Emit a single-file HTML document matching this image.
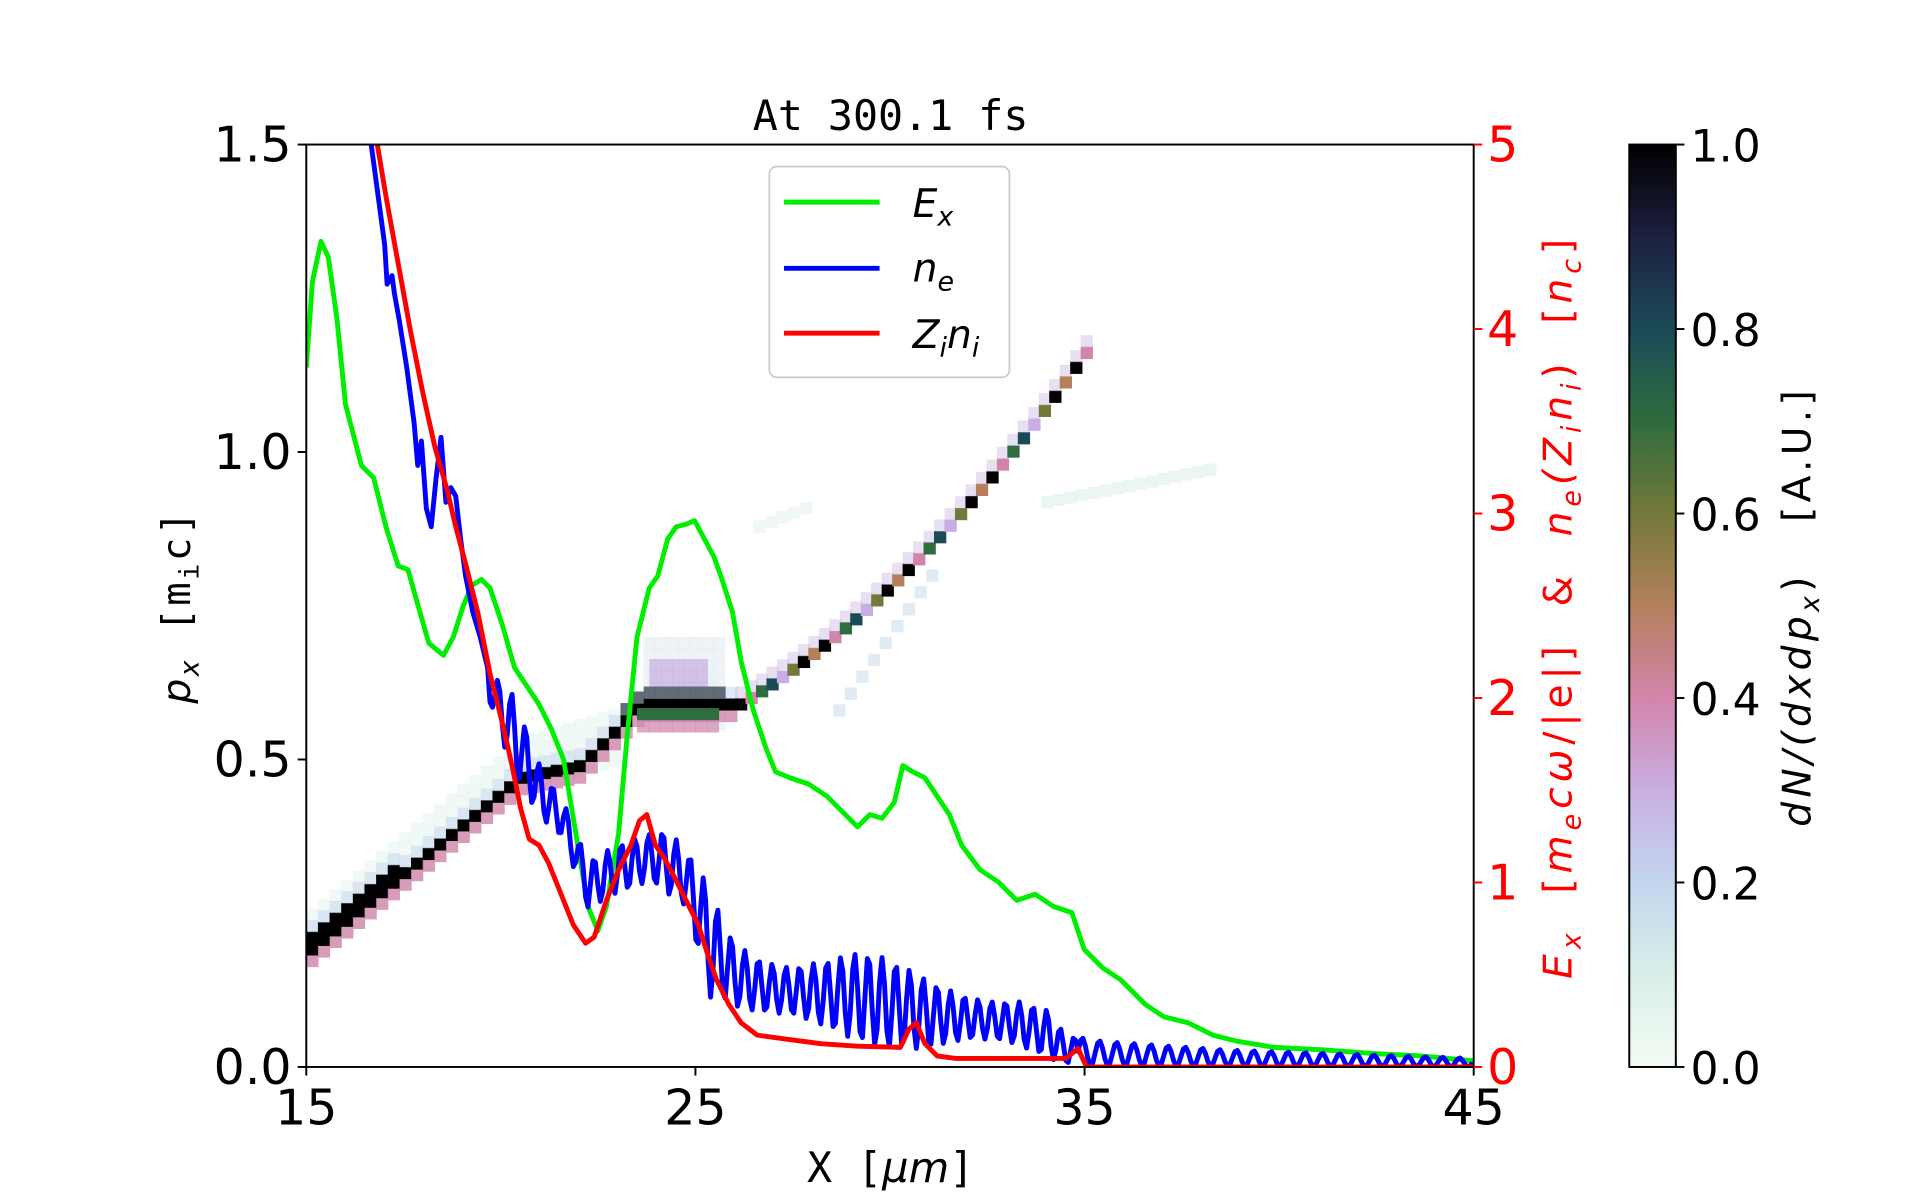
<!DOCTYPE html>
<html><head><meta charset="utf-8"><style>
html,body{margin:0;padding:0;background:#fff;width:1920px;height:1200px;overflow:hidden}
svg{display:block}
text{font-family:"DejaVu Sans","Liberation Sans",sans-serif}
.m{font-family:"DejaVu Sans Mono","Liberation Mono",monospace}
</style></head><body>
<svg id="s" width="1920" height="1200" viewBox="0 0 1567.3 979.6" xmlns="http://www.w3.org/2000/svg">
<defs>
<linearGradient id="cb" x1="0" y1="1" x2="0" y2="0">
<stop offset="0" stop-color="#f4fbf4"/>
<stop offset="0.1" stop-color="#d8efe8"/>
<stop offset="0.2" stop-color="#c3d6ef"/>
<stop offset="0.3" stop-color="#c8aee2"/>
<stop offset="0.4" stop-color="#d285ab"/>
<stop offset="0.5" stop-color="#b4805c"/>
<stop offset="0.6" stop-color="#73793a"/>
<stop offset="0.7" stop-color="#2f6c3e"/>
<stop offset="0.8" stop-color="#1a4a58"/>
<stop offset="0.9" stop-color="#1e2040"/>
<stop offset="1" stop-color="#000"/>
</linearGradient>
<clipPath id="ax"><rect x="250" y="118" width="953" height="753"/></clipPath>
</defs>
<g id="heat" clip-path="url(#ax)"></g>
<g clip-path="url(#ax)" fill="none" stroke-width="4" stroke-linejoin="round">
<polyline id="gr" stroke="#00ee00"/>
<polyline id="bl" stroke="#0000ff"/>
<polyline id="rd" stroke="#ff0000"/>
</g>
<rect x="250" y="118" width="953" height="753" fill="none" stroke="#000" stroke-width="1.6"/>
<g id="ticks" stroke-width="1.6"></g>
<text x="727" y="106" font-size="34" text-anchor="middle" class="m">At 300.1 fs</text>
<text x="727" y="965" font-size="34" text-anchor="middle" class="m">X [<tspan font-style="italic" font-family="DejaVu Sans">μm</tspan>]</text>
<text transform="translate(155,495) rotate(-90)" font-size="32" text-anchor="middle" letter-spacing="2"><tspan font-style="italic">p<tspan font-size="22" dy="7">x</tspan></tspan><tspan dy="-7" class="m" font-family="DejaVu Sans Mono">  [m<tspan font-size="22" dy="7">i</tspan><tspan dy="-7">c]</tspan></tspan></text>
<text transform="translate(1283,495) rotate(-90)" font-size="32" text-anchor="middle" fill="#ff0000" letter-spacing="4" xml:space="preserve"><tspan font-style="italic">E<tspan font-size="22" dy="7">x</tspan></tspan><tspan dy="-7">  [</tspan><tspan font-style="italic">m<tspan font-size="22" dy="7">e</tspan><tspan dy="-7">cω</tspan></tspan>/|e|]  &amp;  <tspan font-style="italic">n<tspan font-size="22" dy="7">e</tspan><tspan dy="-7">(Z</tspan><tspan font-size="22" dy="7">i</tspan><tspan dy="-7">n</tspan><tspan font-size="22" dy="7">i</tspan></tspan><tspan dy="-7">)  [</tspan><tspan font-style="italic">n<tspan font-size="22" dy="7">c</tspan></tspan><tspan dy="-7">]</tspan></text>
<text transform="translate(1478,495) rotate(-90)" font-size="32" text-anchor="middle" letter-spacing="3.5" xml:space="preserve"><tspan font-style="italic">dN/(dxdp<tspan font-size="22" dy="7">x</tspan></tspan><tspan dy="-7">)   [A.U.]</tspan></text>
<rect x="1330" y="118" width="38" height="753" fill="url(#cb)" stroke="#000" stroke-width="1.6"/>
<g>
<rect x="628" y="136" width="196" height="172" rx="6" fill="#fff" fill-opacity="0.8" stroke="#ccc" stroke-width="1.5"/>
<line x1="640" y1="165" x2="718" y2="165" stroke="#00ee00" stroke-width="4"/>
<line x1="640" y1="219" x2="718" y2="219" stroke="#0000ff" stroke-width="4"/>
<line x1="640" y1="272" x2="718" y2="272" stroke="#ff0000" stroke-width="4"/>
<text x="745" y="177" font-size="32" font-style="italic">E<tspan font-size="22" dy="7">x</tspan></text>
<text x="745" y="230" font-size="32" font-style="italic">n<tspan font-size="22" dy="7">e</tspan></text>
<text x="745" y="284" font-size="32" font-style="italic">Z<tspan font-size="22" dy="7">i</tspan><tspan dy="-7">n</tspan><tspan font-size="22" dy="7">i</tspan></text>
</g>
</svg>
<script>
var NS="http://www.w3.org/2000/svg";
function el(t,a,p,txt){var e=document.createElementNS(NS,t);for(var k in a)e.setAttribute(k,a[k]);if(txt!=null)e.textContent=txt;(p||document.getElementById('s')).appendChild(e);return e;}
var T=document.getElementById('ticks');
[15,25,35,45].forEach(function(v){var x=250+(v-15)*953/30;el('line',{x1:x,y1:871,x2:x,y2:878,stroke:'#000'},T);el('text',{x:x,y:918,'font-size':40,'text-anchor':'middle'},T,String(v));});
[0,0.5,1.0,1.5].forEach(function(v){var y=871-v*753/1.5;el('line',{x1:243,y1:y,x2:250,y2:y,stroke:'#000'},T);el('text',{x:238,y:y+14,'font-size':40,'text-anchor':'end'},T,v.toFixed(1));});
[0,1,2,3,4,5].forEach(function(v){var y=871-v*753/5;el('line',{x1:1203,y1:y,x2:1210,y2:y,stroke:'#ff0000'},T);el('text',{x:1214,y:y+14,'font-size':40,fill:'#ff0000'},T,String(v));});
[0,0.2,0.4,0.6,0.8,1.0].forEach(function(v){var y=871-v*753;el('line',{x1:1368,y1:y,x2:1375,y2:y,stroke:'#000'},T);el('text',{x:1380,y:y+14,'font-size':36},T,v.toFixed(1));});
function pts(a){var s=[];for(var i=0;i<a.length;i+=2)s.push(a[i]+','+a[i+1]);return s.join(' ');}
var G=[250,300,255,230,262,197,268,210,275,260,282,330,295,380,305,390,315,430,325,462,333,465,340,490,350,525,362,535,370,520,378,495,385,478,393,473,400,480,410,510,420,545,430,560,440,575,450,595,460,620,470,680,480,740,488,760,495,740,505,680,512,600,520,520,530,480,537,470,545,440,552,430,560,428,567,425,575,440,583,455,590,475,598,500,605,540,615,580,625,610,633,630,645,635,660,640,675,650,690,665,700,675,710,665,720,668,730,655,737,625,745,630,755,635,765,650,775,665,785,690,800,710,815,720,830,735,845,730,860,740,875,745,885,775,900,790,915,800,935,820,950,830,970,835,990,845,1010,850,1040,855,1080,857,1120,860,1160,862,1203,866];
document.getElementById('gr').setAttribute('points',pts(G));
var R=[308,118,315,160,325,215,335,270,345,320,355,365,365,400,372,430,380,460,390,500,400,550,410,590,418,625,425,660,432,685,440,690,448,705,458,730,468,755,478,770,485,765,495,735,505,710,515,690,522,670,528,665,535,690,542,700,550,715,560,735,570,755,578,780,585,800,595,820,605,835,618,845,640,848,670,852,700,854,735,855,742,840,748,835,755,852,765,862,780,864,820,864,870,864,880,856,887,871,950,871,1203,871];
document.getElementById('rd').setAttribute('points',pts(R));
var B=[303,118,310,170,314,200,316,232,320,225,322,240,326,262,332,300,336,330,338,345,341,380,344,360,348,415,352,430,356,390,360,357,364,410,368,398,372,405,376,440,380,470,386,500,392,520,398,545];
function lerp(arr,x){for(var i=0;i<arr.length-1;i++){if(x>=arr[i][0]&&x<=arr[i+1][0]){var t=(x-arr[i][0])/(arr[i+1][0]-arr[i][0]);return arr[i][1]+t*(arr[i+1][1]-arr[i][1]);}}return arr[arr.length-1][1];}
var lo=[[400,575],[420,640],[440,680],[460,700],[480,760],[500,740],[530,720],[560,740],[580,820],[620,845],[700,852],[730,856],[760,862],[830,865],[880,870],[1203,871]];
var hi=[[400,550],[420,560],[440,610],[460,640],[480,685],[520,680],[545,678],[570,705],[600,760],[640,770],[700,775],[760,795],[830,805],[855,820],[870,845],[900,850],[1000,857],[1203,864]];
var ph=0,px=400;
for(var x=400;x<=1203;x+=2){var per=x<880?11.2:14;ph+=2*Math.PI*2/per;var s=Math.sin(ph);var a=lerp(lo,x),b=lerp(hi,x);var amp=(a-b)/2*(0.75+0.25*Math.sin(x*0.037));var y=(a+b)/2+ (x>880? (a-b)/2*(s>0.3?-1:1)*Math.abs(s):amp*s);B.push(x.toFixed(1),y.toFixed(1));}
document.getElementById('bl').setAttribute('points',pts(B));
var H=document.getElementById('heat');var sz=9.5;
function c(x,y,col,op){el('rect',{x:x,y:y,width:sz+0.5,height:sz+0.5,fill:col,'fill-opacity':op||1},H);}
for(var x=250;x<500;x+=sz){var yc=770-(x-250)*0.82; if(x>=420) yc=630-(x-420)*0.3;for(var d=-3;d<=1;d++){c(x,yc+d*sz,'#d8efe8',0.35);}}
for(var x=525;x<585;x+=sz)for(var y=520;y<590;y+=sz)c(x,y,'#dbe8f0',0.5);
for(var x=530;x<570;x+=sz)for(var y=538;y<560;y+=sz)c(x,y,'#c8aee2',0.7);
for(var x=250;x<600;x+=sz){var yc;if(x<420)yc=770-(x-250)*0.82;else if(x<470)yc=630-(x-420)*0.2;else if(x<520)yc=620-(x-470)*1.0;else yc=570;
 c(x,yc+sz,'#d285ab',0.8);c(x,yc,'#000');if(x<320||(x>500&&x<590))c(x,yc-sz,'#000');c(x,yc-sz*(x<320?2:1),'#c3d6ef',0.5);}
for(var x=520;x<580;x+=sz){c(x,578,'#2f6c3e');c(x,588,'#d285ab',0.7);}
var pal=['#000','#d285ab','#2f6c3e','#1a4a58','#c8aee2','#73793a','#000','#b4805c'];var i=0;
for(var x=600;x<885;x+=sz*0.9){var y=570-(x-600)*0.6-Math.pow((x-600)/285,2)*120;c(x,y,pal[i%pal.length]);c(x,y-sz,'#c8aee2',0.4);i++;}
for(var x=680;x<760;x+=sz){var y=575-(x-680)*1.45;c(x,y,'#d8e6f0',0.8);}
for(var x=850;x<990;x+=sz){var y=405-(x-850)*0.2;c(x,y,'#e4f2ea',0.7);}
for(var x=615;x<660;x+=sz){var y=425-(x-615)*0.4;c(x,y,'#eef6f0',0.8);}
</script>
</body></html>
